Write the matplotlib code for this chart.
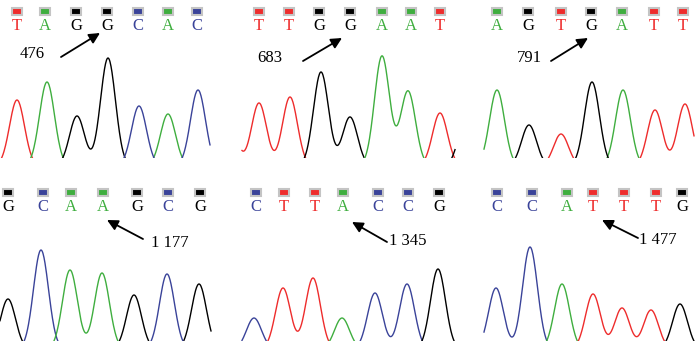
import numpy as np
import matplotlib
matplotlib.use("Agg")
import matplotlib.pyplot as plt
from matplotlib.patches import Rectangle

plt.rcParams['font.family'] = ['Liberation Serif', 'DejaVu Serif']

colors = {'A': '#3fae3f', 'C': '#3a4399', 'G': '#000000', 'T': '#ee2c2c'}

# base calls per panel and their positions (scan units within panel)
seqs = ['TAGGCAC', 'TTGGAAT', 'AGTGATT', 'GCAAGCG', 'CTTACCG', 'CCATTTG']
base_pos = [
    [17, 45, 76, 107, 138, 168, 197],
    [24, 54, 84, 115, 147, 176, 205],
    [32, 63, 96, 126, 157, 189, 218],
    [8, 43, 71, 103, 137, 168, 200],
    [21, 49, 80, 108, 143, 173, 204],
    [32, 67, 102, 128, 159, 191, 217],
]
labels = ['476', '683', '791', '1 177', '1 345', '1 477']

# trace peaks per panel: channel -> [(position, height)]
peaks = [
    {'T': [(17, 58)], 'A': [(47, 76), (168, 44)],
     'G': [(77, 42), (108, 100)], 'C': [(139, 52), (198, 68)]},
    {'T': [(-6, 40), (24, 55), (55, 61), (205, 45)],
     'G': [(86, 86), (115, 41), (231, 40)], 'A': [(147, 102), (173, 67)]},
    {'A': [(32, 68), (158, 68)], 'G': [(64, 33), (127, 76)],
     'T': [(5, 25), (96, 24), (190, 48), (220, 54)]},
    {'G': [(8, 42), (134, 46), (199, 57)], 'C': [(41, 91), (167, 67)],
     'A': [(70, 71), (102, 68)]},
    {'C': [(19, 23), (140, 48), (172, 57)], 'T': [(48, 53), (78, 63)],
     'A': [(107, 23), (235, 30)], 'G': [(203, 72)]},
    {'C': [(31, 53), (65, 94)], 'A': [(97, 57)],
     'T': [(128, 47), (157, 33), (186, 31)], 'G': [(215, 37)]},
]
trace_range = [(0, 210), (7, 220), (19, 229), (0, 211), (7, 220), (19, 230)]

# layout (pixels)
W, H = 700, 341
lefts = [0, 235, 465]
widths = [233, 230, 235]
label_xy = [(32, 104), (35, 100), (64, 100), (170, 98), (173, 100), (193, 101)]
arrow_tail = [(61, 101), (68, 97), (86, 97), (143, 102), (152, 99), (173, 103)]
arrow_head = [(100, 125), (107, 120), (123, 120), (107, 121), (117, 119), (137, 121)]

sigma = 7.5
offset = 8.0

fig = plt.figure(figsize=(7, 3.41), dpi=100)

for i in range(6):
    row = i // 3
    col = i % 3
    if row == 0:
        bot, ht = H - 158, 158
        box_y, let_y = 147, 132
    else:
        bot, ht = 0, 171
        box_y, let_y = 149, 134
    ax = fig.add_axes([lefts[col] / W, bot / H, widths[col] / W, ht / H])
    ax.set_xlim(0, widths[col])
    ax.set_ylim(0, ht)
    ax.axis('off')

    x = np.arange(trace_range[i][0], trace_range[i][1] + 0.5, 0.5)
    for ch, plist in peaks[i].items():
        y = np.zeros_like(x) - offset
        for p, h in plist:
            y += (h + offset) * np.exp(-(x - p) ** 2 / (2 * sigma ** 2))
        ax.plot(x, y, color=colors[ch], lw=1.0)

    for b, bx in zip(seqs[i], base_pos[i]):
        ax.add_patch(Rectangle((bx - 5, box_y - 3.5), 10, 7, facecolor=colors[b],
                               edgecolor='#c4c4c4', lw=1.5, clip_on=False))
        ax.text(bx, let_y, b, color=colors[b], fontsize=12, ha='center', va='center')

    ax.text(label_xy[i][0], label_xy[i][1], labels[i], fontsize=12,
            ha='center', va='center')
    ax.annotate('', xy=arrow_head[i], xytext=arrow_tail[i],
                arrowprops=dict(arrowstyle='-|>', color='black', lw=1.3,
                                mutation_scale=16, shrinkA=0, shrinkB=0))

fig.savefig('out.png', dpi=100)
